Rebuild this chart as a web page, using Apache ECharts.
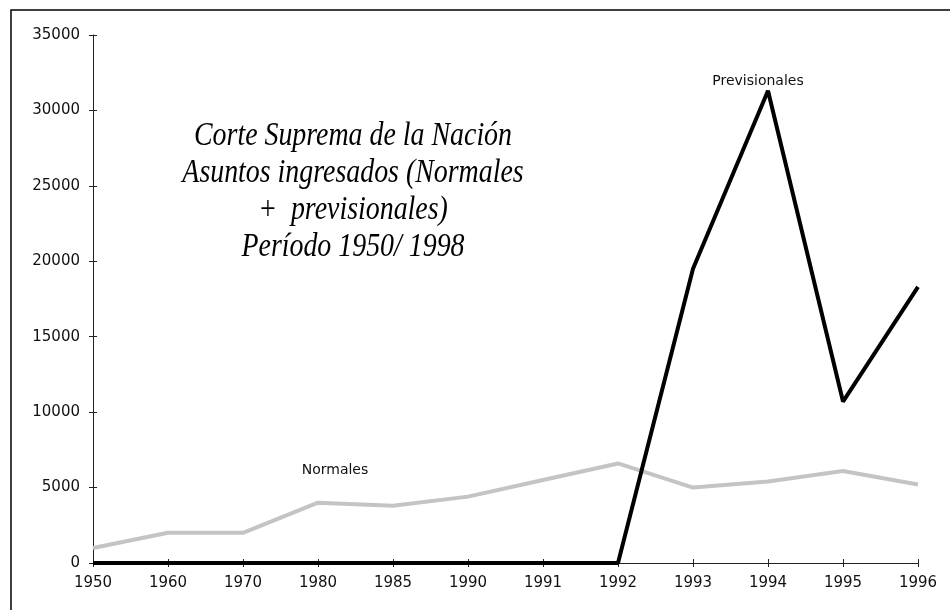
<!DOCTYPE html>
<html>
<head>
<meta charset="utf-8">
<script src="https://cdn.jsdelivr.net/npm/echarts@6/dist/echarts.min.js"></script>
<style>
  html, body { margin: 0; padding: 0; background: #fff; }
  #main { width: 950px; height: 610px; }
</style>
</head>
<body>
<div id="main"></div>
<script>
// datos
var years = ['1950', '1960', '1970', '1980', '1985', '1990', '1991', '1992', '1993', '1994', '1995', '1996'];
var normales = [1000, 2000, 2000, 4000, 3800, 4400, 5500, 6600, 5000, 5400, 6100, 5200];
var previsionales = [0, 0, 0, 0, 0, 0, 0, 0, 19500, 31300, 10700, 18300];

var titleLines = [
  'Corte Suprema de la Nación',
  'Asuntos ingresados (Normales',
  '+  previsionales)',
  'Período 1950/ 1998'
];

var tickFont = { fontFamily: 'DejaVu Sans', fontSize: 15, color: '#111' };

var chart = echarts.init(document.getElementById('main'));

var option = {
  animation: false,
  backgroundColor: '#fff',
  grid: { left: 93, right: 32, top: 35, bottom: 47 },
  xAxis: [
    {
      type: 'category',
      data: years,
      boundaryGap: false,
      axisLine: { lineStyle: { color: '#222', width: 1 } },
      axisTick: { length: 4, lineStyle: { color: '#222' } },
      axisLabel: Object.assign({ margin: 13 }, tickFont),
      splitLine: { show: false }
    },
    {
      // ticks hacia adentro
      type: 'category',
      data: years,
      boundaryGap: false,
      position: 'bottom',
      axisLine: { show: false },
      axisTick: { inside: true, length: 4, lineStyle: { color: '#222' } },
      axisLabel: { show: false },
      splitLine: { show: false }
    }
  ],
  yAxis: [
    {
      type: 'value',
      min: 0,
      max: 35000,
      interval: 5000,
      axisLine: { show: true, lineStyle: { color: '#222', width: 1 } },
      axisTick: { show: true, length: 4, lineStyle: { color: '#222' } },
      axisLabel: Object.assign({ margin: 13, formatter: function (v) { return String(v); } }, tickFont),
      splitLine: { show: false }
    },
    {
      type: 'value',
      min: 0,
      max: 35000,
      interval: 5000,
      position: 'left',
      axisLine: { show: false },
      axisTick: { show: true, inside: true, length: 4, lineStyle: { color: '#222' } },
      axisLabel: { show: false },
      splitLine: { show: false }
    }
  ],
  series: [
    {
      name: 'Normales',
      type: 'line',
      data: normales,
      showSymbol: false,
      lineStyle: { color: '#c4c4c4', width: 4 }
    },
    {
      name: 'Previsionales',
      type: 'line',
      data: previsionales,
      showSymbol: false,
      lineStyle: { color: '#000', width: 4 }
    }
  ]
};

chart.setOption(option);

// etiquetas de las series, ubicadas con la escala del grafico
var pN = chart.convertToPixel({ gridIndex: 0 }, ['1980', 6160]);
var pP = chart.convertToPixel({ gridIndex: 0 }, ['1994', 31940]);
chart.setOption({
  graphic: [
    {
      type: 'rect',
      shape: { x: 11, y: 10, width: 980, height: 660 },
      style: { fill: null, stroke: '#000', lineWidth: 1.5 },
      z: -1
    },
    {
      type: 'text',
      x: 353,
      y: 118,
      scaleX: 0.82,
      style: {
        text: titleLines.join('\n'),
        x: 0, y: 0,
        align: 'center',
        verticalAlign: 'top',
        font: 'italic 34px "Liberation Serif"',
        lineHeight: 37,
        fill: '#000'
      }
    },
    {
      type: 'text',
      x: pN[0] + 17,
      y: pN[1],
      style: {
        text: 'Normales', align: 'center', verticalAlign: 'middle',
        font: '14px "DejaVu Sans"', fill: '#111'
      }
    },
    {
      type: 'text',
      x: pP[0] - 10,
      y: pP[1],
      style: {
        text: 'Previsionales', align: 'center', verticalAlign: 'middle',
        font: '14px "DejaVu Sans"', fill: '#111'
      }
    }
  ]
});
</script>
</body>
</html>
